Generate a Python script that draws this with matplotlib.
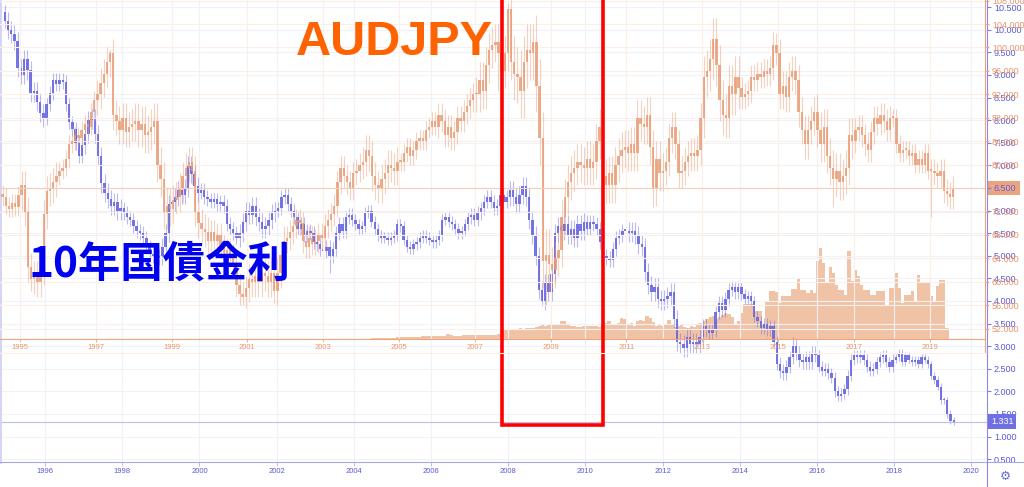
import numpy as np
import matplotlib.pyplot as plt
from matplotlib.patches import Rectangle
from matplotlib.transforms import blended_transform_factory

plt.rcParams['font.family'] = ['Liberation Sans', 'DejaVu Sans']

# AUDJPY monthly closes, Jul 1994 .. Aug 2019
aud_first = (1994, 7)
aud_open0 = 75.0
aud_close = [
    74.5, 73.0, 72.5, 73.5, 72.8, 74.8,
    76.5, 72.0, 62.5, 60.5, 61.0, 60.0, 62.0, 71.5, 75.5, 76.0, 77.0, 78.0,
    79.0, 79.5, 81.0, 83.5, 84.0, 85.0, 84.5, 86.0, 87.0, 86.5, 89.0, 91.0,
    92.0, 94.0, 95.5, 97.5, 99.0, 88.5, 87.5, 86.0, 88.0, 85.5, 86.5, 87.0,
    87.5, 86.0, 87.0, 85.0, 85.5, 86.5, 87.5, 80.0, 77.5, 72.0, 73.0, 72.5,
    74.0, 74.5, 76.0, 78.0, 79.5, 80.5, 79.0, 72.0, 70.0, 69.0, 68.5, 67.0,
    68.5, 67.0, 68.0, 66.0, 65.0, 65.5, 64.5, 63.0, 59.5, 58.0, 57.5, 59.0,
    60.5, 60.0, 61.0, 60.0, 61.5, 61.0, 60.0, 61.5, 58.5, 61.5, 64.5, 67.0,
    67.5, 68.5, 69.5, 70.5, 70.0, 67.0, 66.0, 67.5, 66.5, 67.0, 68.0, 67.5,
    69.5, 70.5, 71.5, 73.0, 77.0, 79.5, 78.0, 77.0, 76.0, 78.5, 79.0, 80.0,
    80.5, 82.5, 81.5, 78.0, 76.5, 76.0, 77.5, 78.5, 80.0, 79.5, 79.0, 80.5,
    80.5, 82.0, 83.0, 81.5, 82.5, 84.0, 84.5, 84.0, 86.0, 86.5, 87.5, 86.5,
    88.5, 87.5, 85.0, 86.5, 84.5, 85.5, 88.0, 87.5, 89.0, 90.0, 91.0, 92.0,
    92.0, 94.5, 92.5, 97.0, 99.5, 100.5, 101.0, 99.0, 96.0, 99.0, 106.5, 97.5,
    95.5, 95.0, 92.5, 97.5, 99.5, 99.0, 101.0, 93.5, 84.5, 63.5, 64.5, 63.0,
    62.0, 64.0, 65.5, 71.0, 74.5, 77.0, 78.5, 79.5, 80.5, 80.0, 79.5, 81.0,
    79.5, 80.5, 84.0, 86.5, 78.0, 76.5, 78.5, 76.5, 80.0, 81.5, 82.5, 83.0,
    82.0, 83.5, 82.0, 88.0, 87.0, 86.5, 88.5, 83.0, 76.0, 81.0, 78.5, 79.0,
    80.5, 84.5, 86.5, 83.5, 78.5, 79.0, 80.5, 81.5, 82.0, 81.5, 82.5, 88.0,
    95.0, 96.0, 98.0, 101.5, 97.0, 91.0, 88.5, 88.0, 93.5, 92.0, 95.0, 93.0,
    91.5, 92.0, 92.5, 95.0, 94.5, 95.5, 95.0, 96.0, 95.5, 96.5, 100.5, 99.0,
    92.0, 93.5, 91.5, 95.0, 96.0, 94.5, 89.0, 86.0, 83.5, 86.0, 87.5, 89.0,
    86.0, 83.5, 86.5, 81.5, 79.5, 77.5, 79.0, 77.0, 78.0, 79.5, 85.0, 84.0,
    86.0, 86.5, 85.0, 83.5, 82.5, 85.5, 88.0, 87.0, 88.5, 87.5, 86.0, 88.0,
    88.0, 83.5, 82.0, 82.5, 82.5, 81.5, 82.0, 80.0, 81.0, 80.0, 82.0, 79.0,
    79.0, 78.5, 78.0, 79.0, 75.5, 75.0, 74.5, 76.0,
]
aud_wick = {1994: 1.5, 1995: 2.5, 1996: 1.5, 1997: 2.5, 1998: 3.0, 1999: 2.5,
            2000: 2.0, 2001: 2.5, 2002: 2.0, 2003: 2.0, 2004: 2.5, 2005: 1.5,
            2006: 2.0, 2007: 3.0, 2008: 4.5, 2009: 3.0, 2010: 3.0, 2011: 3.0,
            2012: 2.5, 2013: 3.5, 2014: 2.0, 2015: 2.5, 2016: 3.0, 2017: 2.0,
            2018: 1.5, 2019: 2.0}
aud_low_spikes = {(1995, 4): 58.5, (1998, 10): 69.0, (2000, 11): 56.0,
                  (2001, 9): 56.4, (2007, 8): 92.5, (2008, 11): 56.0,
                  (2011, 9): 72.8, (2016, 6): 72.8, (2019, 1): 71.0}
aud_high_spikes = {(1997, 5): 99.8, (2007, 11): 107.6, (2008, 7): 104.0,
                   (2013, 4): 105.0, (2014, 11): 102.6}

# AUDJPY volume (relative), Jan 2004 .. Jun 2019
vol_first = (2004, 1)
aud_volume = [
    0, 0, 0, 1, 1, 1, 1, 1, 1.5, 1.5, 1.5, 2,
    2, 2, 2, 2.5, 2.5, 2.5, 2.5, 3, 3, 3, 3, 3,
    3, 3.5, 3.5, 5, 4, 3.5, 3.5, 3.5, 4, 4, 4, 4,
    4, 4, 4, 4, 4.5, 4.5, 4.5, 5, 8, 9, 9, 9,
    10, 10, 11, 10, 11, 11, 11, 12, 13, 14, 13, 14,
    14, 14, 15, 18, 18, 15, 13, 13, 12, 12, 13, 13,
    13, 13, 13, 12, 15, 16, 18, 15, 15, 16, 21, 20,
    14, 16, 13, 18, 19, 18, 23, 21, 17, 13, 14, 13,
    14, 19, 14, 12, 13, 15, 12, 11, 13, 12, 14, 16,
    18, 20, 22, 23, 20, 22, 24, 26, 25, 22, 15, 18,
    26, 35, 35, 35, 28, 28, 28, 15, 38, 48, 48, 47,
    36, 43, 43, 43, 50, 50, 60, 49, 49, 46, 49, 46,
    78, 91, 76, 56, 72, 66, 54, 49, 49, 44, 88, 58,
    69, 63, 54, 49, 49, 44, 44, 48, 48, 48, 34, 51,
    51, 66, 51, 36, 44, 44, 48, 38, 64, 56, 56, 56,
    43, 38, 53, 59, 59, 11,
]

# Australian 10y yield monthly closes, Dec 1994 .. Jul 2019
yld_first = (1994, 12)
yld_open0 = 10.4
yld_close = [
    10.2,
    10.0, 9.9, 9.75, 9.15, 9.0, 9.35, 9.1, 8.6, 8.65, 8.4, 8.15, 8.05,
    8.35, 8.6, 8.9, 8.8, 8.9, 8.85, 8.35, 7.95, 7.8, 7.5, 7.2, 7.45,
    7.7, 8.0, 8.05, 7.7, 7.2, 6.6, 6.4, 6.25, 6.1, 6.2, 6.0, 6.05,
    5.95, 5.85, 5.8, 5.65, 5.55, 5.5, 5.4, 5.2, 5.05, 5.0, 4.95, 5.0,
    5.2, 5.5, 6.15, 6.2, 6.3, 6.45, 6.35, 6.5, 7.0, 6.8, 6.55, 6.4,
    6.45, 6.3, 6.25, 6.2, 6.25, 6.15, 6.2, 6.1, 5.7, 5.6, 5.5, 5.4,
    5.5, 5.75, 6.0, 5.9, 6.1, 5.85, 5.75, 5.6, 5.65, 5.8, 5.95, 6.0,
    6.05, 6.3, 6.35, 6.15, 6.0, 5.85, 5.6, 5.7, 5.45, 5.55, 5.5, 5.3,
    5.25, 5.15, 5.1, 5.2, 5.0, 5.15, 5.5, 5.7, 5.55, 5.85, 5.9, 5.8,
    5.7, 5.6, 5.65, 5.95, 6.0, 5.75, 5.6, 5.45, 5.4, 5.4, 5.35, 5.4,
    5.45, 5.7, 5.65, 5.35, 5.2, 5.15, 5.25, 5.3, 5.4, 5.45, 5.4, 5.35,
    5.3, 5.35, 5.45, 5.8, 5.85, 5.75, 5.7, 5.6, 5.5, 5.55, 5.7, 5.85,
    5.9, 5.8, 5.95, 6.05, 6.2, 6.3, 6.2, 6.05, 6.1, 6.35, 6.2, 6.3,
    6.45, 6.3, 6.15, 6.35, 6.55, 6.3, 5.8, 5.45, 5.0, 4.25, 4.0, 4.4,
    4.2, 4.6, 5.5, 5.65, 5.55, 5.7, 5.45, 5.6, 5.4, 5.7, 5.55, 5.75,
    5.6, 5.75, 5.7, 5.6, 5.3, 5.0, 4.95, 4.9, 5.15, 5.4, 5.45, 5.55,
    5.55, 5.5, 5.55, 5.45, 5.25, 5.2, 4.65, 4.35, 4.2, 4.3, 4.05, 4.0,
    4.05, 4.1, 4.2, 3.6, 3.1, 3.05, 2.95, 3.2, 3.05, 3.1, 3.05, 3.2,
    3.45, 3.35, 3.3, 3.35, 3.75, 3.95, 3.8, 4.05, 4.25, 4.3, 4.2, 4.3,
    4.15, 4.05, 4.1, 4.0, 3.65, 3.55, 3.4, 3.5, 3.35, 3.45, 3.1, 2.6,
    2.45, 2.4, 2.55, 2.75, 3.0, 2.85, 2.7, 2.65, 2.75, 2.65, 2.85, 2.8,
    2.55, 2.45, 2.5, 2.4, 2.3, 2.0, 1.9, 1.95, 2.05, 2.35, 2.7, 2.8,
    2.75, 2.8, 2.7, 2.55, 2.45, 2.5, 2.65, 2.75, 2.8, 2.65, 2.55, 2.7,
    2.75, 2.85, 2.65, 2.8, 2.7, 2.65, 2.7, 2.6, 2.75, 2.7, 2.6, 2.35,
    2.25, 2.1, 1.8, 1.8, 1.5, 1.35, 1.331,
]
yld_wick = {1994: 0.15, 1995: 0.2, 1996: 0.15, 1997: 0.2, 1998: 0.15, 1999: 0.2,
            2000: 0.15, 2001: 0.2, 2002: 0.15, 2003: 0.15, 2004: 0.12, 2005: 0.12,
            2006: 0.12, 2007: 0.15, 2008: 0.2, 2009: 0.2, 2010: 0.15, 2011: 0.2,
            2012: 0.2, 2013: 0.15, 2014: 0.12, 2015: 0.15, 2016: 0.12, 2017: 0.12,
            2018: 0.08, 2019: 0.08}
yld_low_spikes = {(2003, 5): 4.62, (2008, 11): 3.9, (2012, 7): 2.76}
yld_high_spikes = {(1994, 12): 10.55, (2002, 3): 6.5, (2015, 5): 3.2}

blue_ticks = [0.5, 1.0, 1.5, 2.0, 2.5, 3.0, 3.5, 4.0, 4.5, 5.0, 5.5,
              6.0, 6.5, 7.0, 7.5, 8.0, 8.5, 9.0, 9.5, 10.0, 10.5]
orange_ticks = [52, 56, 60, 64, 68, 72, 80, 84, 88, 92, 96, 100, 104, 108]
blue_years = [1996, 1998, 2000, 2002, 2004, 2006, 2008, 2010, 2012, 2014, 2016, 2018, 2020]
orange_years = [1995, 1997, 1999, 2001, 2003, 2005, 2007, 2009, 2011, 2013, 2015, 2017, 2019]

BLUE = '#6868E2'
ORANGE = '#E99A72'


def month_times(first, n):
    y, m = first
    t, ym = [], []
    for _ in range(n):
        t.append(y + (m - 0.5) / 12)
        ym.append((y, m))
        m += 1
        if m > 12:
            m, y = 1, y + 1
    return np.array(t), ym


def ohlc(close, ym, open0, wick, lows, highs):
    c = np.array(close, float)
    o = np.r_[open0, c[:-1]]
    w = np.array([wick[y] for y, m in ym])
    h = np.maximum(o, c) + w
    l = np.minimum(o, c) - w
    for i, k in enumerate(ym):
        if k in lows:
            l[i] = lows[k]
        if k in highs:
            h[i] = highs[k]
    return o, h, l, c


def candles(ax, t, o, h, l, c, color, minh, alpha):
    ax.vlines(t, l, h, color=color, lw=0.8, alpha=0.45)
    body = np.maximum(np.abs(c - o), minh)
    ax.bar(t, body, bottom=np.minimum(o, c), width=0.062, color=color,
           alpha=alpha, lw=0)


W, H = 1024, 487
fig = plt.figure(figsize=(W / 100, H / 100), dpi=100)


def px_axes(x0, y0, x1, y1, z):
    ax = fig.add_axes([x0 / W, 1 - y1 / H, (x1 - x0) / W, (y1 - y0) / H], zorder=z)
    ax.patch.set_visible(False)
    return ax


ax_vol = px_axes(0, 0, 985, 339, 1)
ax_b = px_axes(0, 0, 987, 462, 2)
ax_o = px_axes(0, 0, 985, 339, 3)
ax_top = px_axes(0, 0, W, H, 4)

# --- volume ---
tv, _ = month_times(vol_first, len(aud_volume))
ax_vol.bar(tv, aud_volume, width=1 / 12, color='#F1C3A6', lw=0)
ax_vol.set_xlim(1994.472, 2020.462)
ax_vol.set_ylim(0, 339)
ax_vol.axis('off')

# --- 10y yield (blue) ---
tb, ymb = month_times(yld_first, len(yld_close))
ob, hb, lb, cb = ohlc(yld_close, ymb, yld_open0, yld_wick, yld_low_spikes, yld_high_spikes)
candles(ax_b, tb, ob, hb, lb, cb, BLUE, 0.04, 0.9)
ax_b.axhline(yld_close[-1], color='#BDBDF2', lw=0.8)
ax_b.set_xlim(1994.834, 2020.404)
ax_b.set_ylim(0.438, 10.659)
ax_b.set_yticks(blue_ticks)
ax_b.set_yticklabels([f'{v:.3f}' for v in blue_ticks])
ax_b.set_xticks(blue_years)
ax_b.set_xticklabels([str(y) for y in blue_years])
ax_b.yaxis.tick_right()
ax_b.tick_params(axis='y', length=3, width=0.8, color='#7C7CE6',
                 labelcolor='#5A5AD8', labelsize=6.5, pad=2)
ax_b.tick_params(axis='x', length=3, width=0.6, color='#B0B0EE',
                 labelcolor='#5A5AD8', labelsize=5.5, pad=1.5)
ax_b.grid(True, color='#F1F1FA', lw=0.8)
ax_b.set_axisbelow(True)
ax_b.spines['top'].set_visible(False)
ax_b.spines['left'].set_color('#D3D3F6')
ax_b.spines['left'].set_linewidth(2)
ax_b.spines['bottom'].set_color('#A8A8EE')
ax_b.spines['right'].set_color('#8A8AE6')

trb = blended_transform_factory(ax_b.transAxes, ax_b.transData)
ax_b.text(1.004, yld_close[-1], f'{yld_close[-1]:.3f}', transform=trb, color='white',
          fontsize=6.5, va='center', ha='left', clip_on=False, zorder=6,
          bbox=dict(boxstyle='square,pad=0.3', fc='#7070E4', ec='none'))

# --- AUDJPY (orange) ---
to, ymo = month_times(aud_first, len(aud_close))
oo, ho, lo, co = ohlc(aud_close, ymo, aud_open0, aud_wick, aud_low_spikes, aud_high_spikes)
candles(ax_o, to, oo, ho, lo, co, ORANGE, 0.3, 0.8)
ax_o.axhline(aud_close[-1], color='#F6CDB6', lw=0.8)
ax_o.set_xlim(1994.472, 2020.462)
ax_o.set_ylim(50.25, 108.10)
ax_o.set_yticks(orange_ticks)
ax_o.set_yticklabels([f'{v:.3f}' for v in orange_ticks])
ax_o.set_xticks(orange_years)
ax_o.set_xticklabels([str(y) for y in orange_years])
ax_o.yaxis.tick_right()
ax_o.tick_params(axis='y', length=3, width=0.8, color='#EFA47C',
                 labelcolor='#E99468', labelsize=6.5, pad=2)
ax_o.tick_params(axis='x', length=2, width=0.6, color='#EFA47C',
                 labelcolor='#E99468', labelsize=5.5, pad=1.5)
ax_o.grid(True, color='#FCEFE9', lw=0.8)
ax_o.set_axisbelow(True)
for s in ('top', 'left'):
    ax_o.spines[s].set_visible(False)
ax_o.spines['bottom'].set_color('#EFA47C')
ax_o.spines['right'].set_color('#EFA47C')

tro = blended_transform_factory(ax_vol.transAxes, ax_o.transData)
ax_vol.text(1.005, aud_close[-1], f'{aud_close[-1]:.3f}', transform=tro, color='#F3B896',
            fontsize=6.5, va='center', ha='left', clip_on=False,
            bbox=dict(boxstyle='square,pad=0.3', fc='#EBA37E', ec='none'))

# --- overlay: annotations in pixel space ---
ax_top.set_xlim(0, W)
ax_top.set_ylim(H, 0)
ax_top.axis('off')
ax_top.plot([987, W], [462, 462], color='#A8A8EE', lw=0.8)
ax_top.plot([987, 987], [462, H], color='#8A8AE6', lw=0.8)
ax_top.plot([985, 985], [339, 352], color='#EFA47C', lw=0.8)
ax_top.plot([0, 985], [353, 353], color='#FCEFE9', lw=0.8)
ax_top.add_patch(Rectangle((501.5, -20), 101, 445, fill=False, ec='#FF0000', lw=2.6))
ax_top.text(296, 55, 'AUDJPY', fontsize=35, fontweight='bold', color='#FF6200',
            ha='left', va='baseline', family='Liberation Sans')
ax_top.text(28, 277, '10年国債金利', fontsize=30.5, fontweight='bold', color='#0000F0',
            ha='left', va='baseline', family=['Noto Sans CJK JP', 'DejaVu Sans'])
ax_top.text(1005, 476, '\u2699', fontsize=9, color='#6A6AE0', ha='center', va='center',
            family='DejaVu Sans')

fig.savefig('out.png', dpi=100, facecolor='white')
